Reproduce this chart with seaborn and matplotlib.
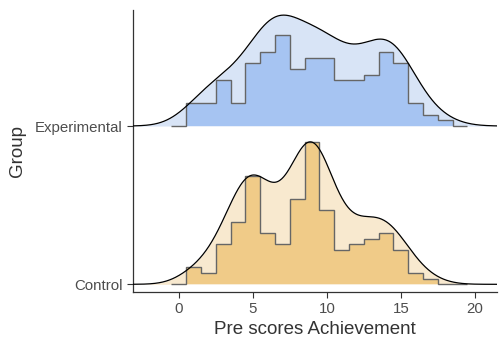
import numpy as np
import pandas as pd
import matplotlib
matplotlib.use("Agg")
import matplotlib.pyplot as plt
import seaborn as sns

sns.set_theme(style="ticks")
plt.rcParams['font.family'] = ['Liberation Sans', 'DejaVu Sans']

# Data: score values (bin centres) and counts per group
groups = ["Control", "Experimental"]
scores = list(range(0, 20))
control_counts = [0, 3, 2, 7, 11, 19, 9, 7, 15, 25, 13, 6, 7, 8, 9, 6, 2, 1, 0, 0]
experimental_counts = [0, 4, 4, 8, 4, 11, 13, 16, 10, 12, 12, 8, 8, 9, 13, 11, 4, 2, 1, 0]
counts = {"Control": control_counts, "Experimental": experimental_counts}

dens_fill = {"Control": "#f8e9cf", "Experimental": "#d8e4f6"}
hist_fill = {"Control": "#f0cb88", "Experimental": "#a6c4f2"}

xlim = (-3.1, 21.5)
ridge_scale = 0.9


def kde_nrd0(values, grid):
    # Gaussian KDE with R's default bandwidth (bw.nrd0)
    n = len(values)
    sd = np.std(values, ddof=1)
    iqr = np.subtract(*np.percentile(values, [75, 25]))
    bw = 0.9 * min(sd, iqr / 1.34) * n ** -0.2
    z = (grid[:, None] - values[None, :]) / bw
    return np.exp(-0.5 * z ** 2).sum(axis=1) / (n * bw * np.sqrt(2 * np.pi))


grid = np.linspace(xlim[0], xlim[1], 600)
dens = {}
for g in groups:
    raw = np.repeat(np.array(scores, dtype=float), counts[g])
    dens[g] = kde_nrd0(raw, grid)
dens_max = max(d.max() for d in dens.values())
hist_max = max(max(c) for c in counts.values())

edges = np.array(scores + [scores[-1] + 1], dtype=float) - 0.5

fig = plt.figure(figsize=(4.99, 3.4), dpi=100)
ax = fig.add_axes([0.2665, 0.141, 0.7295, 0.8296])

for i, g in enumerate(groups):
    y_dens = i + dens[g] / dens_max * ridge_scale
    ax.fill_between(grid, i, y_dens, color=dens_fill[g], lw=0, zorder=1)
    h = i + np.array(counts[g]) / hist_max * ridge_scale
    ax.stairs(h, edges, baseline=i, fill=True, color=hist_fill[g], lw=0, zorder=2)
    ax.stairs(h, edges, baseline=i, fill=False, color="#666666", lw=1.0, zorder=3)
    df = pd.DataFrame({"x": grid, "y": y_dens})
    sns.lineplot(data=df, x="x", y="y", ax=ax, color="black", lw=0.9, zorder=4)

ax.set_xlim(*xlim)
ax.set_ylim(-0.049, 1.733)
ax.set_xticks([0, 5, 10, 15, 20])
ax.set_yticks([0, 1])
ax.set_yticklabels(groups)
ax.tick_params(axis="both", labelsize=10.8, colors="#333333", labelcolor="#4d4d4d",
               length=4, width=0.8)
ax.set_xlabel("Pre scores Achievement", fontsize=13.5, color="#333333", labelpad=3)
ax.set_ylabel("Group", fontsize=13.5, color="#333333", labelpad=6)
for s in ["top", "right"]:
    ax.spines[s].set_visible(False)
for s in ["left", "bottom"]:
    ax.spines[s].set_color("#333333")
    ax.spines[s].set_linewidth(0.9)

fig.savefig("out.png", dpi=100)
